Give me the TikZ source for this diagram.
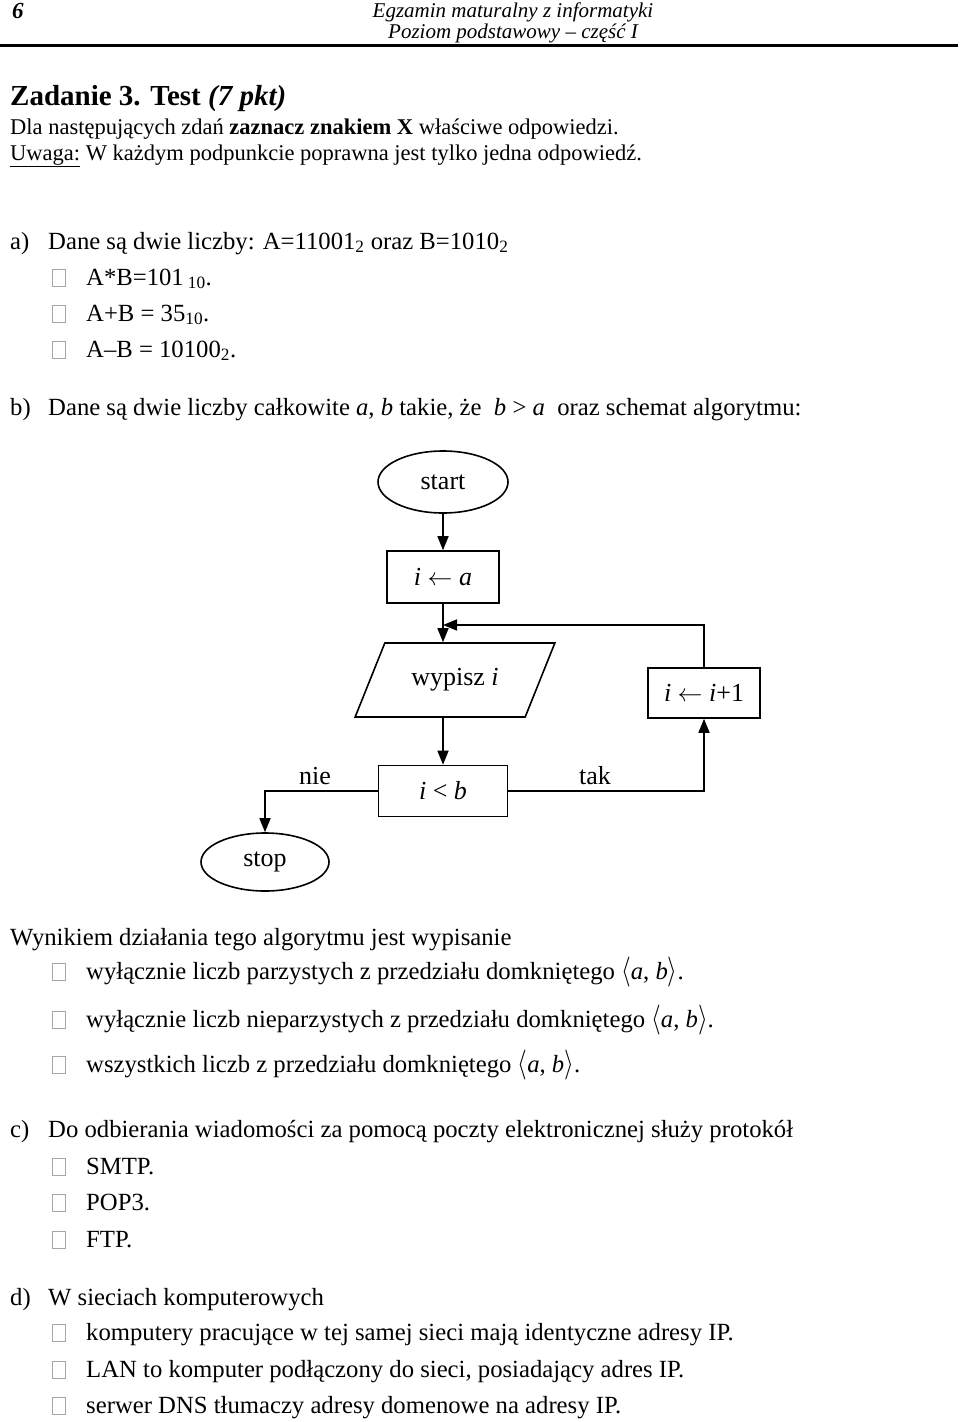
\documentclass[tikz,border=0pt]{standalone}
\usepackage{fontspec}
\setmainfont{Liberation Serif}
\usepackage{graphicx}
\usepackage{tikz}
\usetikzlibrary{shapes.geometric, arrows.meta}

\newcommand{\bodyfont}{\fontsize{24.7}{29}\selectfont}
\newcommand{\introfont}{\fontsize{22.5}{27}\selectfont}
\newcommand{\chartfont}{\fontsize{26}{31}\selectfont}
\newcommand{\headfont}{\fontsize{21}{25}\selectfont\itshape}
\newcommand{\openang}{\scalebox{1}[1.2]{$\langle$}}
\newcommand{\closeang}{\scalebox{1}[1.2]{$\rangle$}}

\tikzset{
    txt/.style={anchor=base west, inner sep=0pt},
    tickbox/.style={draw=gray!70, line width=1pt, minimum width=13pt, minimum height=17pt, inner sep=0pt},
    block/.style={draw, line width=1.6pt, minimum width=112pt, minimum height=52pt, font=\chartfont},
    terminal/.style={ellipse, draw, line width=1.6pt, minimum width=130pt, minimum height=62pt, font=\chartfont},
    io/.style={trapezium, trapezium left angle=56, trapezium right angle=124, trapezium stretches=true,
        draw, line width=1.6pt, minimum width=200pt, minimum height=74pt, font=\chartfont},
    flow/.style={line width=1.6pt, -{Triangle[length=14pt, width=11pt]}},
}

\begin{document}
\begin{tikzpicture}[x=1pt, y=-1pt, font=\bodyfont]
    \fill[white] (0,0) rectangle (960,1422);
    \useasboundingbox (0,0) rectangle (960,1422);

    % Page header
    \node[txt, font=\fontsize{23}{27}\selectfont\bfseries\itshape] (pagenum) at (12,18) {6};
    \node[anchor=base, inner sep=0pt, font=\headfont] (head1) at (513,17) {Egzamin maturalny z informatyki};
    \node[anchor=base, inner sep=0pt, font=\headfont] (head2) at (513,38) {Poziom podstawowy – część I};
    \draw[line width=3pt] (0,45) -- (958,45);

    % Task title
    \node[txt, font=\fontsize{29}{34}\selectfont\bfseries] (title) at (10,105) {Zadanie 3. Test \textit{(7 pkt)}};
    \node[txt, font=\introfont] (intro) at (10,134) {Dla następujących zdań \textbf{zaznacz znakiem X} właściwe odpowiedzi.};
    \node[txt, font=\introfont] (note) at (10,160) {\underline{Uwaga:} W każdym podpunkcie poprawna jest tylko jedna odpowiedź.};

    % Question a
    \node[txt] (qalabel) at (10,249) {a)};
    \node[txt] (qa) at (48,249) {Dane są dwie liczby: A=11001\textsubscript{2} oraz B=1010\textsubscript{2}};
    \node[tickbox] (boxa1) at (59,278) {};
    \node[txt] (qa1) at (86,285) {A*B=101\,\textsubscript{10}.};
    \node[tickbox] (boxa2) at (59,314) {};
    \node[txt] (qa2) at (86,321) {A+B = 35\textsubscript{10}.};
    \node[tickbox] (boxa3) at (59,350) {};
    \node[txt] (qa3) at (86,357) {A–B = 10100\textsubscript{2}.};

    % Question b
    \node[txt] (qblabel) at (10,415) {b)};
    \node[txt] (qb) at (48,415) {Dane są dwie liczby całkowite \textit{a}, \textit{b} takie, że \ \textit{b} > \textit{a} \ oraz schemat algorytmu:};

    % Flowchart
    \node[terminal] (start) at (443,482) {start};
    \node[block] (init) at (443,577) {\textit{i} $\leftarrow$ \textit{a}};
    \node[io] (print) at (455,680) {wypisz \textit{i}};
    \node[block, minimum height=50pt] (incr) at (704,693) {\textit{i} $\leftarrow$ \textit{i}+1};
    \node[block, minimum width=129pt, minimum height=51pt] (test) at (443,791) {\textit{i} < \textit{b}};
    \node[terminal, minimum width=128pt, minimum height=58pt] (stop) at (265,862) {stop};
    \node[font=\chartfont] (nie) at (315,776) {nie};
    \node[font=\chartfont] (tak) at (595,776) {tak};
    \coordinate (join) at (443,625);

    \draw[flow] (start) -- (init);
    \draw[flow] (init.south) -- (init.south |- print.north);
    \draw[flow] (incr.north) |- (join);
    \draw[flow] (init.south |- print.south) -- (test.north);
    \draw[flow] (test.west) -| (stop.north);
    \draw[flow] (test.east) -| (incr.south);

    % Answers for b
    \node[txt] (result) at (10,945) {Wynikiem działania tego algorytmu jest wypisanie};
    \node[tickbox] (boxb1) at (59,972) {};
    \node[txt] (qb1) at (86,979) {wyłącznie liczb parzystych z przedziału domkniętego \openang\textit{a}, \textit{b}\closeang.};
    \node[tickbox] (boxb2) at (59,1020) {};
    \node[txt] (qb2) at (86,1027) {wyłącznie liczb nieparzystych z przedziału domkniętego \openang\textit{a}, \textit{b}\closeang.};
    \node[tickbox] (boxb3) at (59,1065) {};
    \node[txt] (qb3) at (86,1072) {wszystkich liczb z przedziału domkniętego \openang\textit{a}, \textit{b}\closeang.};

    % Question c
    \node[txt] (qclabel) at (10,1137) {c)};
    \node[txt] (qc) at (48,1137) {Do odbierania wiadomości za pomocą poczty elektronicznej służy protokół};
    \node[tickbox] (boxc1) at (59,1167) {};
    \node[txt] (qc1) at (86,1174) {SMTP.};
    \node[tickbox] (boxc2) at (59,1203) {};
    \node[txt] (qc2) at (86,1210) {POP3.};
    \node[tickbox] (boxc3) at (59,1240) {};
    \node[txt] (qc3) at (86,1247) {FTP.};

    % Question d
    \node[txt] (qdlabel) at (10,1305) {d)};
    \node[txt] (qd) at (48,1305) {W sieciach komputerowych};
    \node[tickbox] (boxd1) at (59,1333) {};
    \node[txt] (qd1) at (86,1340) {komputery pracujące w tej samej sieci mają identyczne adresy IP.};
    \node[tickbox] (boxd2) at (59,1370) {};
    \node[txt] (qd2) at (86,1377) {LAN to komputer podłączony do sieci, posiadający adres IP.};
    \node[tickbox] (boxd3) at (59,1406) {};
    \node[txt] (qd3) at (86,1413) {serwer DNS tłumaczy adresy domenowe na adresy IP.};
\end{tikzpicture}
\end{document}
